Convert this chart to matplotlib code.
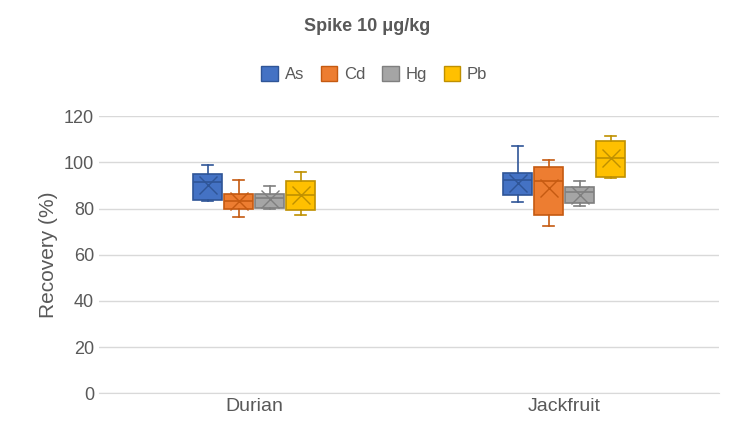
import matplotlib.pyplot as plt
from matplotlib.patches import Patch

plt.rcParams['font.family'] = ['Liberation Sans', 'DejaVu Sans']

samples = ["Durian", "Jackfruit"]
metals = ["As", "Cd", "Hg", "Pb"]
colors = ["#4472C4", "#ED7D31", "#A5A5A5", "#FFC000"]
edges = ["#2F5597", "#C55A11", "#7F7F7F", "#BF9000"]

# [whislo, q1, med, q3, whishi, mean] per sample per metal
durian = [
    [83.3, 83.8, 91.5, 95.1, 99.0, 90.3],
    [76.5, 79.9, 83.5, 86.4, 92.6, 83.5],
    [80.0, 80.3, 84.6, 86.5, 89.6, 84.0],
    [77.2, 79.6, 85.7, 91.8, 95.7, 86.0],
]
jackfruit = [
    [82.7, 85.7, 92.2, 95.4, 107.0, 91.0],
    [72.4, 77.2, 91.9, 98.0, 101.0, 89.0],
    [81.3, 82.5, 87.1, 89.3, 91.8, 86.0],
    [93.4, 93.7, 101.9, 109.2, 111.6, 102.0],
]
data = [durian, jackfruit]

fig, ax = plt.subplots(figsize=(7.34, 4.47), dpi=100)
fig.subplots_adjust(left=0.135, right=0.98, top=0.74, bottom=0.12)

offsets = [-0.15, -0.05, 0.05, 0.15]
for si, sample in enumerate(data):
    for mi, v in enumerate(sample):
        st = dict(whislo=v[0], q1=v[1], med=v[2], q3=v[3], whishi=v[4], mean=v[5], fliers=[])
        ec = edges[mi]
        ax.bxp([st], positions=[si + offsets[mi]], widths=0.093, patch_artist=True,
               showmeans=True, meanline=False,
               boxprops=dict(facecolor=colors[mi], edgecolor=ec, linewidth=1.2),
               medianprops=dict(color=ec, linewidth=1.2),
               whiskerprops=dict(color=ec, linewidth=1.2),
               capprops=dict(color=ec, linewidth=1.2),
               capwidths=0.035,
               meanprops=dict(marker="x", markeredgecolor=ec, markersize=13, markeredgewidth=1))

ax.set_xlim(-0.5, 1.5)
ax.set_ylim(0, 120)
ax.set_yticks(range(0, 121, 20))
ax.set_xticks([0, 1])
ax.set_xticklabels(samples)
ax.tick_params(axis="both", length=0, labelsize=13, colors="#595959")
ax.tick_params(axis="x", labelsize=14)
ax.yaxis.grid(True, color="#D9D9D9", linewidth=1)
ax.set_axisbelow(True)
for s in ["top", "right", "left"]:
    ax.spines[s].set_visible(False)
ax.spines["bottom"].set_color("#D9D9D9")
ax.set_ylabel("Recovery (%)", fontsize=15, color="#595959")

fig.text(0.5, 0.93, "Spike 10 \u03bcg/kg", ha="center", fontsize=13, fontweight="bold", color="#595959")
handles = [Patch(facecolor=c, edgecolor=e) for c, e in zip(colors, edges)]
fig.legend(handles, metals, loc="center", bbox_to_anchor=(0.51, 0.835), ncol=4, frameon=False,
           fontsize=12, handlelength=1.0, handleheight=1.0, columnspacing=1.0, handletextpad=0.4,
           labelcolor="#595959")

fig.savefig("out.png")
